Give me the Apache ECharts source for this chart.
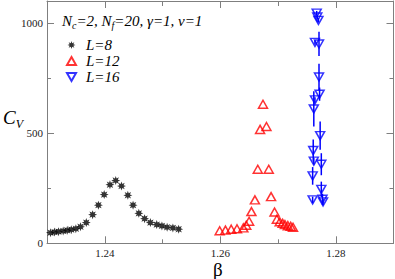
<!DOCTYPE html>
<html><head><meta charset="utf-8">
<script src="https://cdn.jsdelivr.net/npm/echarts@6/dist/echarts.min.js"></script>
<style>html,body{margin:0;padding:0;background:#fff}#c{width:395px;height:279px}</style>
</head><body><div id="c"></div>
<script>
// ---- data ----
const xMajorTicks = [1.24, 1.26, 1.28];
const xMinorTicks = [1.25, 1.27];
const yMajorTicks = [0, 500, 1000];
const yMinorTicks = [250, 750];

const beta8 = [1.2299, 1.2306, 1.2313, 1.2320, 1.2328, 1.2335, 1.2342, 1.2350, 1.2358, 1.2368, 1.2379, 1.2389, 1.2399, 1.2409, 1.2419, 1.2429, 1.2440, 1.2449, 1.2459, 1.2469, 1.2479, 1.2490, 1.2499, 1.2508, 1.2518, 1.2528];
const cv8   = [45, 48, 51, 53, 56, 59, 62, 66, 75, 94, 130, 173, 221, 266, 285, 260, 218, 173, 136, 112, 94, 85, 79, 73, 70, 64];

const beta12 = [1.2599, 1.2609, 1.2619, 1.2629, 1.2640, 1.2645, 1.2650, 1.2654, 1.2660, 1.2665, 1.2669, 1.2674, 1.2680, 1.2684, 1.2688, 1.2694, 1.2698, 1.2703, 1.2708, 1.2712, 1.2717, 1.2722, 1.2726];
const cv12   = [57, 60, 64, 66, 70, 82, 100, 144, 197, 336, 517, 631, 530, 336, 212, 142, 109, 98, 91, 85, 80, 77, 73];

const beta16 = [1.2767, 1.2768, 1.2770, 1.2764, 1.2771, 1.2771, 1.2772, 1.2764, 1.2762, 1.2773, 1.2761, 1.2762, 1.2775, 1.2760, 1.2775, 1.2760, 1.2777, 1.2778];
const cv16   = [1045, 1027, 1012, 912, 905, 755, 677, 651, 610, 489, 421, 373, 359, 306, 245, 197, 200, 188];
const err16  = [10, 10, 10, 10, 55, 60, 30, 12, 80, 64, 50, 15, 50, 40, 35, 15, 25, 15];

const seriesNames = ['L=8', 'L=12', 'L=16'];

// ---- build ----
const zip = (a, b) => a.map((v, i) => [v, b[i]]);
const starPts = [];
for (let i = 0; i < 16; i++) {
  const a = i * Math.PI / 8 - Math.PI / 2, r = (i % 2) ? 0.5 : 1;
  starPts.push((10 + 10 * r * Math.cos(a)).toFixed(2) + ',' + (10 + 10 * r * Math.sin(a)).toFixed(2));
}
const starPath = 'path://M' + starPts.join('L') + 'Z';
const downTri = 'path://M0,0L10,0L5,8.66Z';

const axisColor = '#7f7f7f';
const serif = 'Liberation Serif';
const XMIN = 1.23, XMAX = 1.29, YMIN = 0, YMAX = 1100;

function xAx(pos, ticks, len, main) {
  return {
    type: 'value', min: XMIN, max: XMAX, position: pos,
    axisLine: { show: main, onZero: false, lineStyle: { color: axisColor, width: 1 } },
    axisTick: { show: true, inside: true, length: len, customValues: ticks, lineStyle: { color: axisColor, width: 1 } },
    axisLabel: (main && pos === 'bottom') ? { show: true, customValues: ticks, formatter: v => v.toFixed(2), fontFamily: serif, fontSize: 11, color: '#222', margin: 4 } : { show: false },
    splitLine: { show: false }
  };
}
function yAx(pos, ticks, len, main) {
  return {
    type: 'value', min: YMIN, max: YMAX, position: pos,
    axisLine: { show: main, onZero: false, lineStyle: { color: axisColor, width: 1 } },
    axisTick: { show: true, inside: true, length: len, customValues: ticks, lineStyle: { color: axisColor, width: 1 } },
    axisLabel: (main && pos === 'left') ? { show: true, customValues: ticks, formatter: v => String(v), fontFamily: serif, fontSize: 11, color: '#222', margin: 4 } : { show: false },
    splitLine: { show: false }
  };
}

const chart = echarts.init(document.getElementById('c'), null, { renderer: 'svg' });
chart.setOption({
  animation: false,
  backgroundColor: '#fff',
  grid: { left: 47, right: 1.5, top: 1, bottom: 35.7 },
  xAxis: [
    xAx('bottom', xMajorTicks, 7, true), xAx('bottom', xMinorTicks, 4, false),
    xAx('top', xMajorTicks, 7, true), xAx('top', xMinorTicks, 5, false)
  ],
  yAxis: [
    yAx('left', yMajorTicks, 7, true), yAx('left', yMinorTicks, 4, false),
    yAx('right', yMajorTicks, 7, true), yAx('right', yMinorTicks, 4, false)
  ],
  legend: {
    data: seriesNames, orient: 'vertical', left: 66, top: 37, itemGap: 0,
    itemWidth: 9, itemHeight: 8, padding: 0,
    textStyle: { fontFamily: serif, fontStyle: 'italic', fontSize: 15, color: '#000', lineHeight: 16, padding: [0, 0, 0, 5] }
  },
  graphic: [
    { type: 'text', left: 62, top: 13,
      style: { text: '{i|N}{s|c}{i|=2, N}{s|f}{i|=20, γ=1, ν=1}',
        rich: { i: { fontFamily: serif, fontStyle: 'italic', fontSize: 15, fill: '#000', lineHeight: 20, verticalAlign: 'middle' },
                s: { fontFamily: serif, fontStyle: 'italic', fontSize: 10, fill: '#000', lineHeight: 20, verticalAlign: 'bottom' } } } },
    { type: 'text', left: 3, top: 108,
      style: { text: '{c|C}{v|V}',
        rich: { c: { fontFamily: serif, fontStyle: 'italic', fontSize: 19, fill: '#000', lineHeight: 24, verticalAlign: 'middle' },
                v: { fontFamily: serif, fontStyle: 'italic', fontSize: 12, fill: '#000', lineHeight: 24, verticalAlign: 'bottom' } } } },
    { type: 'text', left: 213, top: 260,
      style: { text: 'β', fontFamily: serif, fontSize: 19, fill: '#000' } }
  ],
  series: [
    { name: 'L=8', type: 'scatter', data: zip(beta8, cv8), symbol: starPath, symbolSize: 9,
      itemStyle: { color: '#000' }, z: 3 },
    { name: 'L=12', type: 'scatter', data: zip(beta12, cv12), symbol: 'triangle', symbolSize: [9, 8],
      itemStyle: { color: 'rgba(255,255,255,0)', borderColor: '#ff0000', borderWidth: 1.5 }, z: 3 },
    { name: 'L=16', type: 'scatter', data: zip(beta16, cv16), symbol: downTri, symbolSize: [9, 8],
      itemStyle: { color: 'rgba(255,255,255,0)', borderColor: '#0000ff', borderWidth: 1.5 }, z: 3 },
    { name: 'err16', type: 'custom', data: beta16.map((b, i) => [b, cv16[i], err16[i]]),
      encode: { x: 0, y: 1 }, z: 2,
      renderItem: (params, api) => {
        const x = api.value(0), y = api.value(1), e = api.value(2);
        const p1 = api.coord([x, y - e]), p2 = api.coord([x, y + e]);
        return { type: 'line', shape: { x1: p1[0], y1: p1[1], x2: p2[0], y2: p2[1] },
                 style: { stroke: '#0000ff', lineWidth: 1.5 } };
      } }
  ]
});
</script></body></html>
